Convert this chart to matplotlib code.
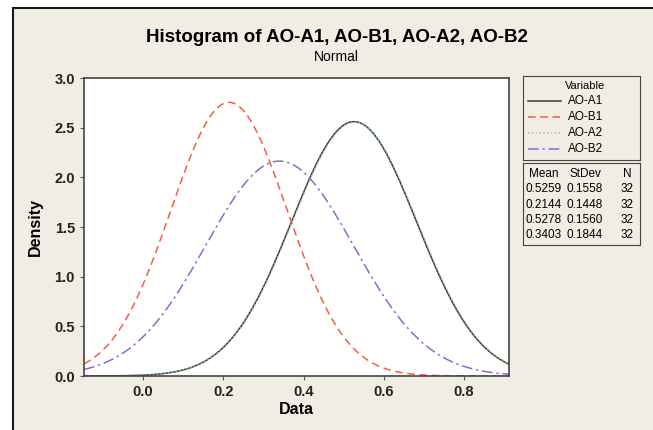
import numpy as np
import matplotlib.pyplot as plt
from matplotlib.patches import Rectangle

variables = ["AO-A1", "AO-B1", "AO-A2", "AO-B2"]
means = [0.5259, 0.2144, 0.5278, 0.3403]
stdevs = [0.1558, 0.1448, 0.1560, 0.1844]
counts = [32, 32, 32, 32]
x_ticks = [0.0, 0.2, 0.4, 0.6, 0.8]
y_ticks = [0.0, 0.5, 1.0, 1.5, 2.0, 2.5, 3.0]

colors = ["#3a3a3a", "#f0604a", "#8fc98a", "#7f6fd0"]
styles = ["-", (0, (5, 3)), (0, (1, 1.5)), (0, (7, 2.5, 1.5, 2.5))]

plt.rcParams["font.family"] = ["Liberation Sans", "DejaVu Sans"]

W, H = 653, 430
fig = plt.figure(figsize=(W / 100, H / 100), dpi=100)
fig.patch.set_facecolor("white")
bg = "#f1ede4"
# outer panel, its right and bottom edges run off the picture
fig.patches.append(Rectangle((13 / W, -0.1), 1.2, 1.1 - 8 / H, transform=fig.transFigure,
                             facecolor=bg, edgecolor="#1a1a1a", linewidth=1.5, zorder=-10))

ax = fig.add_axes([84 / W, 1 - 376 / H, (509 - 84) / W, (376 - 78) / H])
ax.set_facecolor("white")

xlo, xhi = -0.147, 0.912
grid = np.linspace(xlo, xhi, 400)
for v, m, s, c, ls in zip(variables, means, stdevs, colors, styles):
    pdf = np.exp(-0.5 * ((grid - m) / s) ** 2) / (s * np.sqrt(2 * np.pi))
    ax.plot(grid, pdf, color=c, linestyle=ls, linewidth=1.1)

ax.set_xlim(xlo, xhi)
ax.set_ylim(0, 3.0)
ax.set_xticks(x_ticks, [f"{t:.1f}" for t in x_ticks])
ax.set_yticks(y_ticks, [f"{t:.1f}" for t in y_ticks])
ax.tick_params(labelsize=10.5, length=3, color="#555555", labelcolor="#222222")
for lab in ax.get_xticklabels() + ax.get_yticklabels():
    lab.set_fontweight("bold")
for sp in ax.spines.values():
    sp.set_color("#444444")
    sp.set_linewidth(1.2)
ax.set_xlabel("Data", fontsize=11.5, fontweight="bold", labelpad=2)
ax.set_ylabel("Density", fontsize=11.5, fontweight="bold", labelpad=8)

fig.text(0.5 + 10 / W, 1 - 38 / H, "Histogram of " + ", ".join(variables),
         ha="center", va="center", fontsize=13.5, fontweight="bold")
fig.text(0.5 + 10 / W, 1 - 57 / H, "Normal", ha="center", va="center", fontsize=10)

# legend box
lax = fig.add_axes([523 / W, 1 - 160 / H, (640 - 523) / W, (160 - 76) / H])
lax.set_xlim(0, 117)
lax.set_ylim(84, 0)
lax.set_xticks([])
lax.set_yticks([])
lax.set_facecolor(bg)
for sp in lax.spines.values():
    sp.set_color("#444444")
lax.text(62, 10, "Variable", ha="center", va="center", fontsize=8)
for i, (v, c, ls) in enumerate(zip(variables, colors, styles)):
    yy = 25 + i * 16
    lax.plot([5, 38], [yy, yy], color=c, linestyle=ls, linewidth=1.1)
    lax.text(45, yy, v, ha="left", va="center", fontsize=8.5)

# stats box
sax = fig.add_axes([523 / W, 1 - 245 / H, (640 - 523) / W, (245 - 163) / H])
sax.set_xlim(0, 117)
sax.set_ylim(82, 0)
sax.set_xticks([])
sax.set_yticks([])
sax.set_facecolor(bg)
for sp in sax.spines.values():
    sp.set_color("#444444")
sax.text(21, 11, "Mean", ha="center", va="center", fontsize=8.5)
sax.text(62, 11, "StDev", ha="center", va="center", fontsize=8.5)
sax.text(104, 11, "N", ha="center", va="center", fontsize=8.5)
for i, (m, s, n) in enumerate(zip(means, stdevs, counts)):
    yy = 26 + i * 15.5
    sax.text(21, yy, f"{m:.4f}", ha="center", va="center", fontsize=8.5)
    sax.text(62, yy, f"{s:.4f}", ha="center", va="center", fontsize=8.5)
    sax.text(104, yy, f"{n}", ha="center", va="center", fontsize=8.5)

fig.savefig("out.png", dpi=100, facecolor=fig.get_facecolor())
